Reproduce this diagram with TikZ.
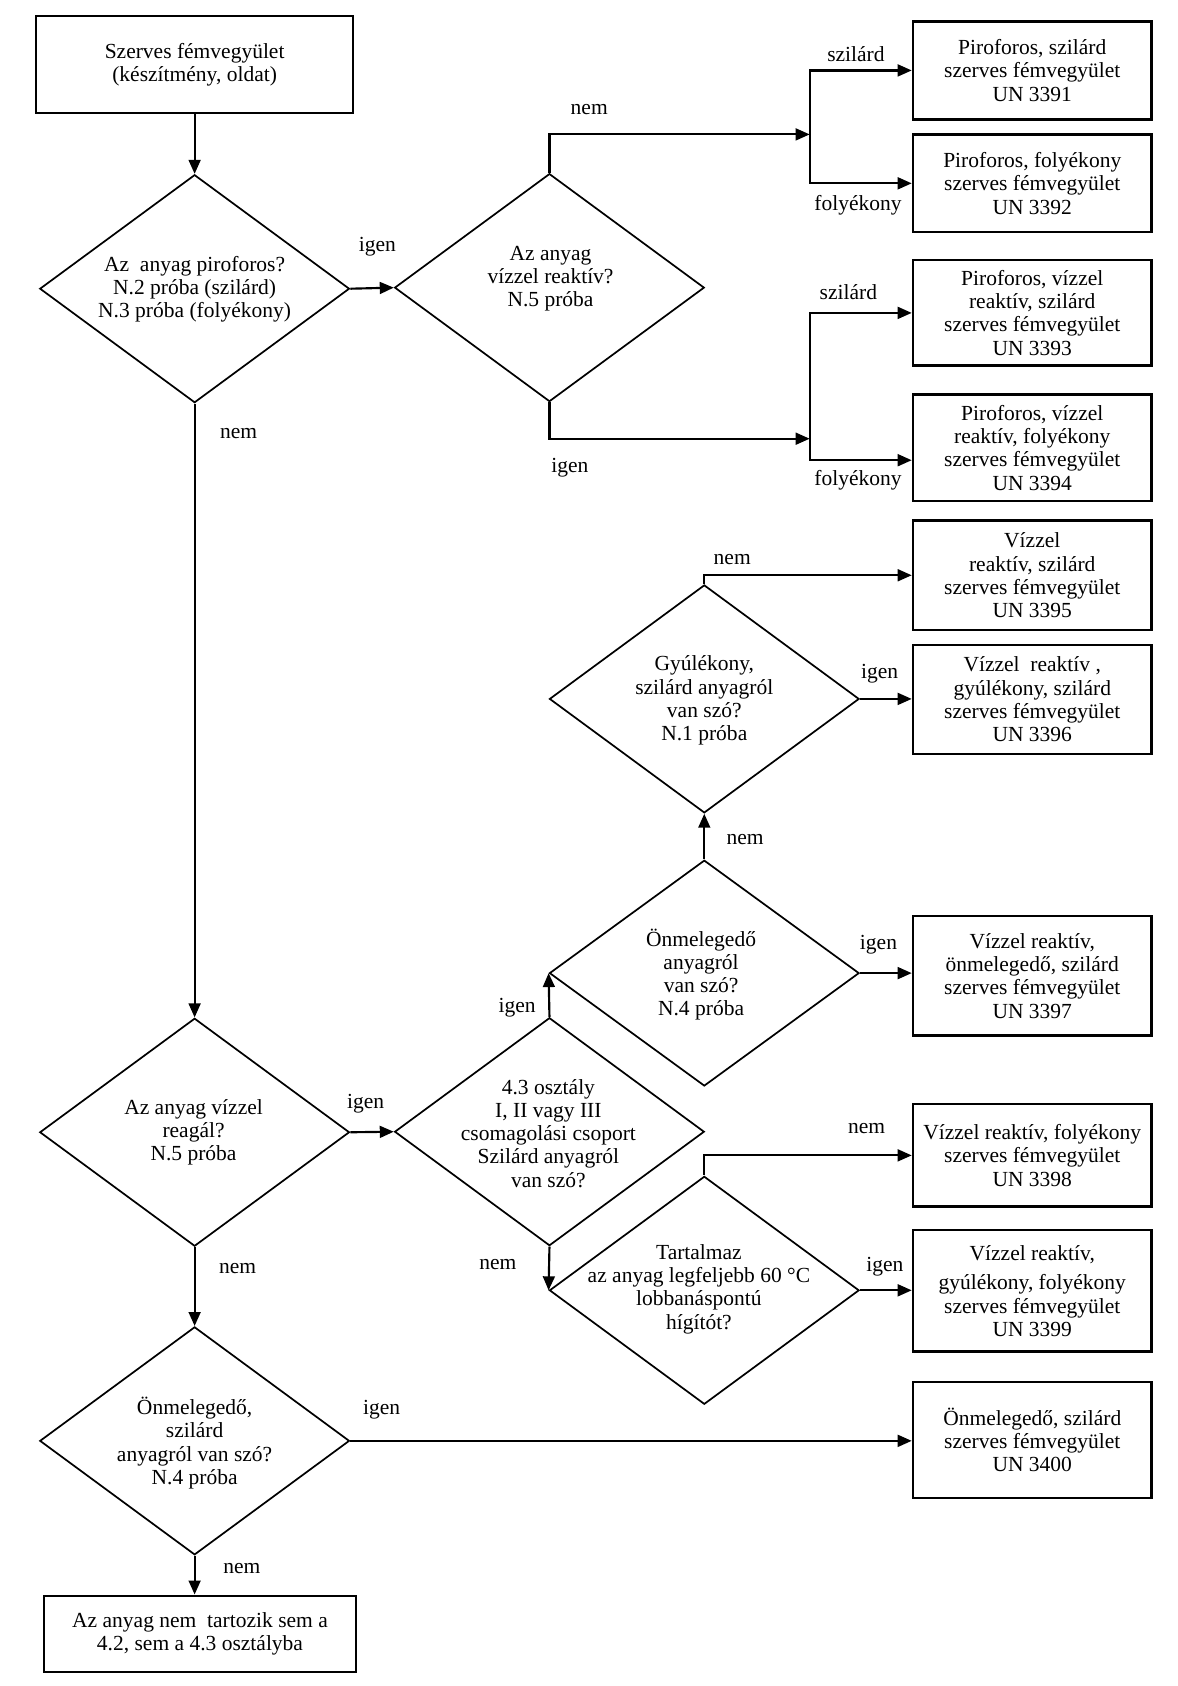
\documentclass[tikz,border=0pt]{standalone}
\usepackage{fontspec}
\setmainfont{Liberation Serif}
\usetikzlibrary{arrows.meta,shapes.geometric}
\begin{document}
\begin{tikzpicture}[x=0.5pt,y=-0.5pt,
  every node/.style={font=\fontsize{10pt}{10.8pt}\selectfont},
  box/.style={draw, line width=1.1pt, minimum width=111pt, align=center, inner sep=0pt},
  dia/.style={draw, diamond, line width=0.8pt, minimum width=144pt, minimum height=106pt, inner sep=0pt},
  txt/.style={align=center, inner sep=0pt},
  lab/.style={inner sep=0pt},
  arr/.style={line width=1pt, -{Triangle[length=6.5pt,width=5.5pt]}},
  ln/.style={line width=1pt}
]
\useasboundingbox (0,0) rectangle (1095,1568);

% boxes
\node[box, minimum width=147.5pt, minimum height=45pt] (b0) at (181,60) {Szerves fémvegyület\\(készítmény, oldat)};
\node[box, minimum height=45.5pt] (b3391) at (960,65.5) {Piroforos, szilárd\\szerves fémvegyület\\UN 3391};
\node[box, minimum height=45.5pt] (b3392) at (960,170.5) {Piroforos, folyékony\\szerves fémvegyület\\UN 3392};
\node[box, minimum height=49pt] (b3393) at (960,291) {Piroforos, vízzel\\reaktív, szilárd\\szerves fémvegyület\\UN 3393};
\node[box, minimum height=49.5pt] (b3394) at (960,416.5) {Piroforos, vízzel\\reaktív, folyékony\\szerves fémvegyület\\UN 3394};
\node[box, minimum height=51pt] (b3395) at (960,535) {Vízzel\\reaktív, szilárd\\szerves fémvegyület\\UN 3395};
\node[box, minimum height=50.5pt] (b3396) at (960,650.5) {Vízzel\ \ reaktív ,\\gyúlékony, szilárd\\szerves fémvegyület\\UN 3396};
\node[box, minimum height=55.5pt] (b3397) at (960,907.5) {Vízzel reaktív,\\önmelegedő, szilárd\\szerves fémvegyület\\UN 3397};
\node[box, minimum height=47.5pt] (b3398) at (960,1074.5) {Vízzel reaktív, folyékony\\szerves fémvegyület\\UN 3398};
\node[box, minimum height=56.5pt] (b3399) at (960,1200.5) {Vízzel reaktív,\\[3pt]gyúlékony, folyékony\\szerves fémvegyület\\UN 3399};
\node[box, minimum height=54pt] (b3400) at (960,1339) {Önmelegedő, szilárd\\szerves fémvegyület\\UN 3400};
\node[box, minimum width=145pt, minimum height=35.5pt] (bend) at (186,1519.5) {Az anyag nem\ \ tartozik sem a\\4.2, sem a 4.3 osztályba};

% diamonds
\node[dia] (d1) at (181,268.5) {};
\node[txt] (t1) at (181,269) {Az\ \ anyag piroforos?\\N.2 próba (szilárd)\\N.3 próba (folyékony)};
\node[dia] (d2) at (511,267.5) {};
\node[txt] (t2) at (512,259) {Az anyag\\vízzel reaktív?\\N.5 próba};
\node[dia] (d3) at (655,650) {};
\node[txt] (t3) at (655,651.5) {Gyúlékony,\\szilárd anyagról\\van szó?\\N.1 próba};
\node[dia, minimum height=105pt] (d4) at (655,905) {};
\node[txt] (t4) at (652,906.5) {Önmelegedő\\anyagról\\van szó?\\N.4 próba};
\node[dia] (d5) at (181,1053) {};
\node[txt] (t5) at (180,1053) {Az anyag vízzel\\reagál?\\N.5 próba};
\node[dia] (d6) at (511,1052.5) {};
\node[txt] (t6) at (510,1054) {4.3 osztály\\I, II vagy III\\csomagolási csoport\\Szilárd anyagról\\van szó?};
\node[dia] (d7) at (655,1200) {};
\node[txt] (t7) at (650,1199) {Tartalmaz\\az anyag legfeljebb 60 °C\\lobbanáspontú\\hígítót?};
\node[dia] (d8) at (181,1340) {};
\node[txt] (t8) at (181,1342) {Önmelegedő,\\szilárd\\anyagról van szó?\\N.4 próba};

% junctions
\coordinate (j1) at (753,125);
\coordinate (j2) at (753,408);

% connectors
\draw[arr] (b0.south) -- (d1.north);
\draw[arr] (d1.east) -- (d2.west);
\draw[arr] (d2.north) |- (j1);
\draw[arr] (j1) |- (b3391);
\draw[arr] (j1) |- (b3392);
\draw[arr] (d2.south) |- (j2);
\draw[arr] (j2) |- (b3393);
\draw[arr] (j2) |- ([yshift=-5.75pt]b3394.west);
\draw[arr] (d3.north) |- (b3395);
\draw[arr] (d3.east) -- (d3.east -| b3396.west);
\draw[arr] (d4.north) -- (d3.south);
\draw[arr] (d4.east) -- (d4.east -| b3397.west);
\draw[arr] (d1.south) -- (d5.north);
\draw[arr] (d5.east) -- (d6.west);
\draw[arr] (d6.north) -- (d4.west);
\draw[arr] (d6.south) -- (d7.west);
\draw[arr] (d7.north) |- (b3398);
\draw[arr] (d7.east) -- (d7.east -| b3399.west);
\draw[arr] (d5.south) -- (d8.north);
\draw[arr] (d8.east) -- (d8.east -| b3400.west);
\draw[arr] (d8.south) -- (d8.south |- bend.north);

% labels
\node[lab] (l1) at (351,229) {igen};
\node[lab] (l2) at (548,102) {nem};
\node[lab] (l3) at (796,50) {szilárd};
\node[lab] (l4) at (798,191) {folyékony};
\node[lab] (l5) at (789,272) {szilárd};
\node[lab] (l6) at (530,435) {igen};
\node[lab] (l7) at (798,447) {folyékony};
\node[lab] (l8) at (222,403) {nem};
\node[lab] (l9) at (681,520) {nem};
\node[lab] (l10) at (818,627) {igen};
\node[lab] (l11) at (693,781) {nem};
\node[lab] (l12) at (817,879) {igen};
\node[lab] (l13) at (481,937) {igen};
\node[lab] (l14) at (340,1026) {igen};
\node[lab] (l15) at (806,1050) {nem};
\node[lab] (l16) at (463,1176) {nem};
\node[lab] (l17) at (823,1178) {igen};
\node[lab] (l18) at (221,1180) {nem};
\node[lab] (l19) at (355,1311) {igen};
\node[lab] (l20) at (225,1459) {nem};
\end{tikzpicture}
\end{document}
